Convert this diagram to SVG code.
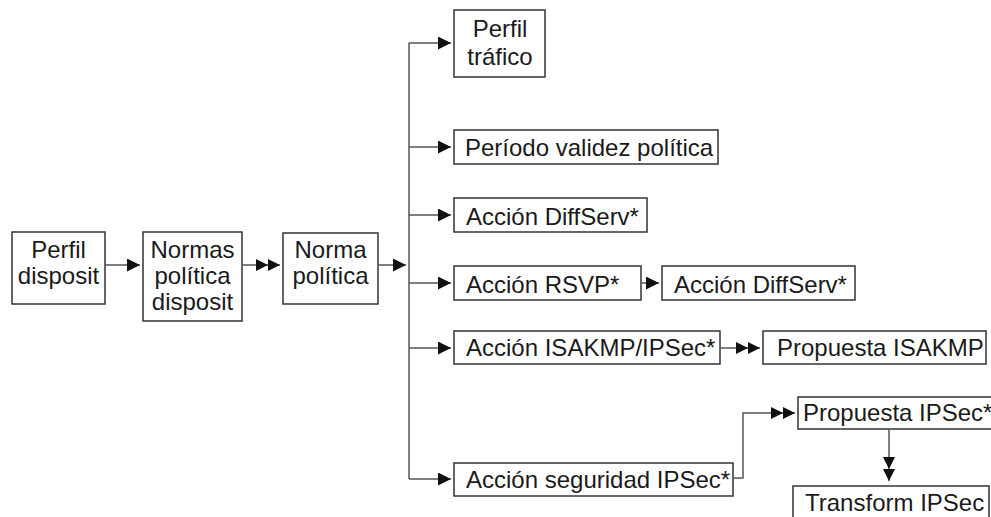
<svg xmlns="http://www.w3.org/2000/svg" width="991" height="517" viewBox="0 0 991 517">
  <style>
    .box { fill: #fff; stroke: #333; stroke-width: 1.5; }
    .lbl { font-family: "Liberation Sans", Arial, sans-serif; font-size: 24px; fill: #1a1a1a; }
    .mid { text-anchor: middle; }
    .wire { fill: none; stroke: #555; stroke-width: 1.5; }
    .arr { marker-end: url(#head); }
    .arr2 { marker-end: url(#head2); }
  </style>
  <defs>
    <marker id="head" markerUnits="userSpaceOnUse" markerWidth="14" markerHeight="14" refX="13" refY="6.5" orient="auto">
      <path d="M0,0 L13,6.5 L0,13 Z" fill="#111"/>
    </marker>
    <marker id="head2" markerUnits="userSpaceOnUse" markerWidth="26" markerHeight="14" refX="24" refY="6" orient="auto">
      <path d="M0,0 L12,6 L0,12 Z M12,0 L24,6 L12,12 Z" fill="#111"/>
    </marker>
  </defs>

  <g id="perfil-disposit">
    <rect class="box" x="12" y="232" width="93" height="72"/>
    <text class="lbl mid" x="58.5" y="258">Perfil</text>
    <text class="lbl mid" x="58.5" y="284">disposit</text>
  </g>
  <g id="normas-politica-disposit">
    <rect class="box" x="143" y="232" width="99" height="89"/>
    <text class="lbl mid" x="192.5" y="258">Normas</text>
    <text class="lbl mid" x="192.5" y="284">política</text>
    <text class="lbl mid" x="192.5" y="310">disposit</text>
  </g>
  <g id="norma-politica">
    <rect class="box" x="283" y="233" width="95" height="71"/>
    <text class="lbl mid" x="330.5" y="258">Norma</text>
    <text class="lbl mid" x="330.5" y="284">política</text>
  </g>
  <g id="perfil-trafico">
    <rect class="box" x="454" y="10" width="91" height="67"/>
    <text class="lbl mid" x="500" y="37">Perfil</text>
    <text class="lbl mid" x="500" y="65">tráfico</text>
  </g>
  <g id="periodo-validez">
    <rect class="box" x="454" y="130" width="264" height="34"/>
    <text class="lbl" x="465" y="156">Período validez política</text>
  </g>
  <g id="accion-diffserv">
    <rect class="box" x="454" y="198" width="193" height="34"/>
    <text class="lbl" x="466" y="225">Acción DiffServ*</text>
  </g>
  <g id="accion-rsvp">
    <rect class="box" x="454" y="266" width="187" height="34"/>
    <text class="lbl" x="466" y="293">Acción RSVP*</text>
  </g>
  <g id="accion-diffserv-rsvp">
    <rect class="box" x="662" y="266" width="193" height="34"/>
    <text class="lbl" x="674" y="293">Acción DiffServ*</text>
  </g>
  <g id="accion-isakmp">
    <rect class="box" x="454" y="331" width="266" height="33"/>
    <text class="lbl" x="466" y="356">Acción ISAKMP/IPSec*</text>
  </g>
  <g id="propuesta-isakmp">
    <rect class="box" x="763" y="331" width="223" height="33"/>
    <text class="lbl" x="777" y="356">Propuesta ISAKMP</text>
  </g>
  <g id="accion-seguridad">
    <rect class="box" x="454" y="463" width="279" height="33"/>
    <text class="lbl" x="466" y="488">Acción seguridad IPSec*</text>
  </g>
  <g id="propuesta-ipsec">
    <rect class="box" x="798" y="397" width="200" height="32"/>
    <text class="lbl" x="803" y="421">Propuesta IPSec*</text>
  </g>
  <g id="transform-ipsec">
    <rect class="box" x="793" y="486" width="196" height="45"/>
    <text class="lbl" x="805" y="511">Transform IPSec</text>
  </g>

  <g id="connectors">
    <line class="wire arr" x1="105" y1="265" x2="140" y2="265"/>
    <line class="wire arr2" x1="242" y1="265" x2="280" y2="265"/>
    <line class="wire arr" x1="378" y1="265" x2="406" y2="265"/>
    <line class="wire" x1="409" y1="43" x2="409" y2="479"/>
    <line class="wire arr" x1="409" y1="43" x2="451" y2="43"/>
    <line class="wire arr" x1="409" y1="147" x2="451" y2="147"/>
    <line class="wire arr" x1="409" y1="215" x2="451" y2="215"/>
    <line class="wire arr" x1="409" y1="283" x2="451" y2="283"/>
    <line class="wire arr" x1="409" y1="348" x2="451" y2="348"/>
    <line class="wire arr" x1="409" y1="479" x2="451" y2="479"/>
    <line class="wire arr" x1="641" y1="283" x2="659" y2="283"/>
    <line class="wire arr2" x1="720" y1="348" x2="760" y2="348"/>
    <polyline class="wire arr2" points="733,478 743,478 743,413 795,413"/>
    <line class="wire arr2" x1="889" y1="429" x2="889" y2="481"/>
  </g>
</svg>
